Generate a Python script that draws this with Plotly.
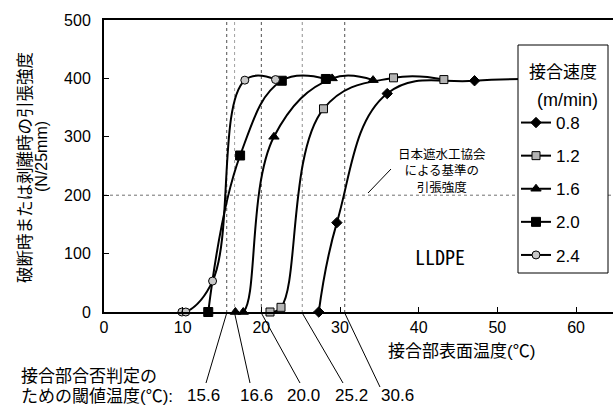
import plotly.graph_objects as go

# ---------------- data ----------------
speeds = ["0.8", "1.2", "1.6", "2.0", "2.4"]

temp_08 = [27.3, 29.6, 36.0, 47.1, 57.0]
str_08 = [0, 153, 374, 396, 398]

temp_12 = [21.1, 22.5, 27.9, 36.8, 43.2]
str_12 = [0, 8, 348, 401, 398]

temp_16 = [16.7, 17.7, 21.6, 29.0, 34.2]
str_16 = [0, 0, 300, 400, 397]

temp_20 = [13.25, 17.3, 22.6, 28.2]
str_20 = [0, 268, 396, 399]

temp_24 = [9.9, 10.4, 13.8, 17.9, 21.8]
str_24 = [0, 0, 53, 397, 398]

thresholds = [15.6, 16.6, 20.0, 25.2, 30.6]
threshold_labels = ["15.6", "16.6", "20.0", "25.2", "30.6"]
standard_strength = 200

x_ticks = [0, 10, 20, 30, 40, 50, 60]
y_ticks = [0, 100, 200, 300, 400, 500]

# ---------------- layout helpers ----------------
FIG_W, FIG_H = 613, 406
L, T, R, B = 104, 20, 0, 94
PW, PH = FIG_W - L - R, FIG_H - T - B
X_MAX = 64.7


def pxX(px):
    return (px - L) / PW


def pxY(py):
    return (T + PH - py) / PH


def px2data(px):
    return (px - L) / PW * X_MAX


FONT = "Liberation Sans, Arial, Noto Sans CJK JP"

series = [
    (speeds[0], temp_08, str_08, dict(symbol="diamond", size=8, color="black")),
    (speeds[1], temp_12, str_12, dict(symbol="square", size=8, color="#b4b4b4")),
    (speeds[2], temp_16, str_16, dict(symbol="triangle-up", size=9, color="black")),
    (speeds[3], temp_20, str_20, dict(symbol="square", size=9, color="black")),
    (speeds[4], temp_24, str_24, dict(symbol="circle", size=8, color="#c8c8c8")),
]

fig = go.Figure()
for name, xs, ys, mk in series:
    fig.add_trace(go.Scatter(
        x=xs, y=ys, name=name, legendgroup=name,
        mode="lines+markers",
        line=dict(color="black", width=2, shape="spline", smoothing=1.2),
        marker=dict(symbol=mk["symbol"], size=mk["size"], color=mk["color"],
                    line=dict(color="black", width=1)),
        cliponaxis=False,
    ))

shapes = []
# vertical dotted threshold lines
thr_colors = ["#505050", "#a0a0a0", "#505050", "#909090", "#505050"]
for t, c in zip(thresholds, thr_colors):
    shapes.append(dict(type="line", xref="x", yref="paper", x0=t, x1=t,
                       y0=pxY(313), y1=1, line=dict(color=c, width=1, dash="dot"),
                       layer="below"))
# horizontal standard line
shapes.append(dict(type="line", xref="paper", yref="y", x0=0, x1=1,
                   y0=standard_strength, y1=standard_strength,
                   line=dict(color="#707070", width=1, dash="dot"), layer="below"))

# leader lines to threshold labels
leader_bottom_px = [206, 250, 300, 343, 380]
leader_bottom_py = [383, 383, 383, 383, 387]
label_px = [203, 256, 303.5, 351, 397]
for t, bx, by in zip(thresholds, leader_bottom_px, leader_bottom_py):
    shapes.append(dict(type="line", xref="x", yref="paper",
                       x0=t, x1=px2data(bx), y0=pxY(313), y1=pxY(by),
                       line=dict(color="black", width=1)))
# pointer line for standard annotation
shapes.append(dict(type="line", xref="paper", yref="paper",
                   x0=pxX(391), y0=pxY(169), x1=pxX(368), y1=pxY(193),
                   line=dict(color="black", width=1)))
# legend box
shapes.append(dict(type="rect", xref="paper", yref="paper",
                   x0=pxX(518), x1=pxX(608), y0=pxY(273), y1=pxY(45),
                   fillcolor="white", line=dict(color="black", width=1),
                   layer="above"))

annotations = []
for lab, lx in zip(threshold_labels, label_px):
    annotations.append(dict(text=lab, xref="paper", yref="paper",
                            x=pxX(lx), y=pxY(395), showarrow=False, height=19,
                            xanchor="center", yanchor="middle",
                            font=dict(family=FONT, size=17, color="black")))
annotations += [
    dict(text="接合部合否判定の", xref="paper", yref="paper", x=pxX(19), y=pxY(376),
         xanchor="left", yanchor="middle", showarrow=False, height=20,
         font=dict(family=FONT, size=17, color="black")),
    dict(text="ための閾値温度(℃):", xref="paper", yref="paper", x=pxX(19), y=pxY(396),
         xanchor="left", yanchor="middle", showarrow=False, height=19,
         font=dict(family=FONT, size=17, color="black")),
    dict(text="接合部表面温度(℃)", xref="paper", yref="paper", x=pxX(461), y=pxY(351),
         xanchor="center", yanchor="middle", showarrow=False,
         font=dict(family=FONT, size=17, color="black")),
    dict(text="破断時または剥離時の引張強度", xref="paper", yref="paper", x=pxX(25), y=pxY(168),
         xanchor="center", yanchor="middle", showarrow=False, textangle=-90,
         font=dict(family=FONT, size=16.5, color="black")),
    dict(text="(N/25mm)", xref="paper", yref="paper", x=pxX(41), y=pxY(157),
         xanchor="center", yanchor="middle", showarrow=False, textangle=-90,
         font=dict(family=FONT, size=16, color="black")),
    dict(text="LLDPE", xref="paper", yref="paper", x=pxX(440), y=pxY(256),
         xanchor="center", yanchor="middle", showarrow=False,
         font=dict(family="Noto Sans Mono CJK JP, DejaVu Sans Mono", size=20, color="black")),
    dict(text="日本遮水工協会<br>による基準の<br>引張強度", xref="paper", yref="paper",
         x=pxX(442), y=pxY(171), xanchor="center", yanchor="middle", showarrow=False,
         font=dict(family=FONT, size=12.5, color="black")),
    dict(text="接合速度", xref="paper", yref="paper", x=pxX(563), y=pxY(73),
         xanchor="center", yanchor="middle", showarrow=False,
         font=dict(family=FONT, size=17, color="black")),
    dict(text="(m/min)", xref="paper", yref="paper", x=pxX(567), y=pxY(100),
         xanchor="center", yanchor="middle", showarrow=False,
         font=dict(family="Liberation Sans, Arial", size=18, color="black")),
]

fig.update_layout(
    width=FIG_W, height=FIG_H,
    margin=dict(l=L, r=R, t=T, b=B, pad=0),
    paper_bgcolor="white", plot_bgcolor="white",
    font=dict(family=FONT, size=16, color="black"),
    shapes=shapes, annotations=annotations,
    showlegend=True,
    legend=dict(
        x=pxX(516), y=pxY(105), xanchor="left", yanchor="top",
        borderwidth=0, bgcolor="rgba(0,0,0,0)",
        font=dict(family=FONT, size=17, color="black"),
        tracegroupgap=8, itemwidth=30,
    ),
)
fig.update_xaxes(
    range=[0, X_MAX], tickvals=x_ticks, ticks="inside", ticklen=5, tickwidth=1,
    tickcolor="black", showline=True, linecolor="black", linewidth=2, mirror=True,
    showgrid=False, zeroline=False, tickfont=dict(family=FONT, size=16),
)
fig.update_yaxes(
    range=[0, 500], tickvals=y_ticks, ticks="inside", ticklen=5, tickwidth=1,
    tickcolor="black", showline=True, linecolor="black", linewidth=2, mirror=False,
    showgrid=False, zeroline=False, tickfont=dict(family=FONT, size=16),
    ticklabelstandoff=8,
)

fig.write_html("out.html", config={"displayModeBar": False},
               post_script="document.body.style.margin='0';")
